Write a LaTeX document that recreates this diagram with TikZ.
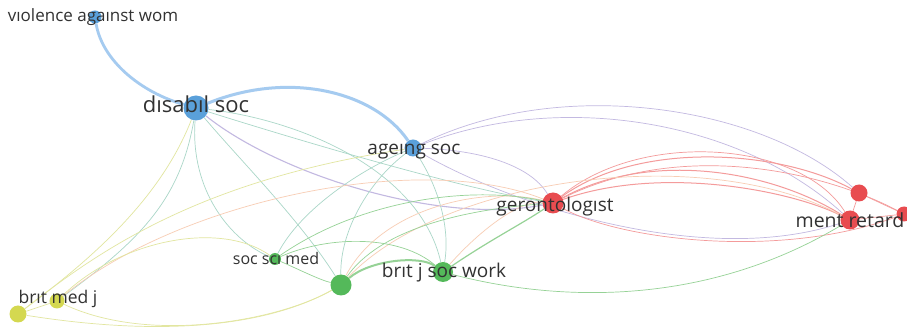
\documentclass[tikz,border=0pt]{standalone}
\usepackage{fontspec}
\setmainfont{Open Sans}
\begin{document}
\definecolor{nblue}{RGB}{90,160,218}
\definecolor{nred}{RGB}{232,76,80}
\definecolor{ngreen}{RGB}{84,185,90}
\definecolor{nyellow}{RGB}{212,216,80}
\definecolor{ebl}{RGB}{165,203,240}
\definecolor{etl}{RGB}{170,215,200}
\definecolor{epu}{RGB}{195,185,225}
\definecolor{ere}{RGB}{244,155,155}
\definecolor{egr}{RGB}{150,210,150}
\definecolor{eye}{RGB}{226,230,160}
\definecolor{eor}{RGB}{248,205,180}
\definecolor{txt}{RGB}{50,50,50}
\begin{tikzpicture}[x=1pt,y=-1pt,
  nd/.style={circle,inner sep=0pt,draw=none},
  lab/.style={text=txt,inner sep=0pt},
  ed/.style={line width=0.7pt}]
\useasboundingbox (0,0) rectangle (907,336);
\fill[white] (0,0) rectangle (907,336);
% node positions
\coordinate (violC) at (95,17);
\coordinate (disC) at (196,108);
\coordinate (ageC) at (413,148);
\coordinate (gerC) at (553,203);
\coordinate (mraC) at (859,193);
\coordinate (mrbC) at (850,220);
\coordinate (mrcC) at (904,214);
\coordinate (sscC) at (275,259);
\coordinate (gnC) at (341,285);
\coordinate (bjsC) at (443,272);
\coordinate (bmjC) at (57,301);
\coordinate (yelC) at (18,314);
% nodes
\node[nd,minimum size=13pt] (viol) at (violC) {};
\node[nd,minimum size=25pt] (dis) at (disC) {};
\node[nd,minimum size=17pt] (age) at (ageC) {};
\node[nd,minimum size=21pt] (ger) at (gerC) {};
\node[nd,minimum size=17pt] (mra) at (mraC) {};
\node[nd,minimum size=19pt] (mrb) at (mrbC) {};
\node[nd,minimum size=15pt] (mrc) at (mrcC) {};
\node[nd,minimum size=12pt] (ssc) at (sscC) {};
\node[nd,minimum size=21pt] (gn) at (gnC) {};
\node[nd,minimum size=20pt] (bjs) at (bjsC) {};
\node[nd,minimum size=15pt] (bmj) at (bmjC) {};
\node[nd,minimum size=17pt] (yel) at (yelC) {};
\begin{scope}[ed]
% blue
\draw[ebl,line width=2.8pt] (viol) .. controls (102,60) and (140,92) .. (dis);
\draw[ebl,line width=3pt] (dis) .. controls (290,70) and (375,92) .. (age);
\draw[epu,line width=1.1pt] (dis) .. controls (280,175) and (440,225) .. (ger);
\draw[epu] (age) .. controls (480,150) and (530,165) .. (ger);
\draw[epu] (age) .. controls (560,75) and (760,105) .. (mra);
\draw[epu] (age) .. controls (560,90) and (740,120) .. (mrb);
\draw[epu] (age) .. controls (500,200) and (700,270) .. (mrb);
% teal
\draw[etl] (dis) .. controls (300,120) and (420,170) .. (bjs);
\draw[etl] (dis) .. controls (240,160) and (300,220) .. (gn);
\draw[etl] (dis) .. controls (190,190) and (230,240) .. (ssc);
\draw[etl] (dis) .. controls (180,200) and (140,240) .. (bmj);
\draw[etl] (age) .. controls (360,170) and (300,210) .. (ssc);
\draw[etl] (age) .. controls (370,180) and (340,230) .. (gn);
\draw[etl] (age) .. controls (440,190) and (450,230) .. (bjs);
\draw[etl] (dis) .. controls (330,150) and (470,190) .. (ger);
% red
\draw[ere,line width=1pt] (ger) .. controls (640,140) and (780,150) .. (mra);
\draw[ere,line width=1pt] (ger) .. controls (650,150) and (770,170) .. (mrb);
\draw[ere,line width=1pt] (ger) .. controls (660,165) and (790,190) .. (mrb);
\draw[ere] (ger) .. controls (640,130) and (800,140) .. (mrb);
\draw[ere] (ger) .. controls (680,140) and (820,170) .. (mrc);
\draw[ere] (ger) .. controls (620,240) and (780,260) .. (mrc);
\draw[ere] (mra) -- (mrb);
\draw[ere] (mrb) -- (mrc);
\draw[ere] (mra) -- (mrc);
% peach / orange
\draw[eor] (bmj) .. controls (180,200) and (420,150) .. (ger);
\draw[eor] (gn) .. controls (380,210) and (480,185) .. (ger);
\draw[eor] (bjs) .. controls (480,230) and (520,200) .. (ger);
\draw[eor] (gn) .. controls (440,180) and (700,140) .. (mrb);
% green
\draw[egr,line width=2pt] (gn) .. controls (370,260) and (420,255) .. (bjs);
\draw[egr,line width=1.2pt] (bjs) .. controls (490,240) and (520,225) .. (ger);
\draw[egr] (ssc) .. controls (300,270) and (320,280) .. (gn);
\draw[egr] (ssc) .. controls (330,235) and (400,235) .. (bjs);
\draw[egr] (ssc) .. controls (360,200) and (470,185) .. (ger);
\draw[egr] (gn) .. controls (380,230) and (460,210) .. (ger);
\draw[egr] (bjs) .. controls (550,300) and (700,310) .. (mrb);
% yellow
\draw[eye] (bmj) .. controls (120,240) and (220,220) .. (ssc);
\draw[eye] (bmj) .. controls (150,345) and (280,320) .. (gn);
\draw[eye] (yel) -- (bmj);
\draw[eye] (yel) .. controls (100,250) and (200,180) .. (age);
\draw[eye] (yel) .. controls (90,260) and (160,200) .. (dis);
\draw[eye] (yel) .. controls (150,335) and (260,330) .. (gn);
\end{scope}
% node discs on top of edges
\fill[nblue] (violC) circle (6.5pt);
\fill[nblue] (disC) circle (12.5pt);
\fill[nblue] (ageC) circle (8.5pt);
\fill[nred] (gerC) circle (10.5pt);
\fill[nred] (mraC) circle (8.5pt);
\fill[nred] (mrbC) circle (9.5pt);
\fill[nred] (mrcC) circle (7.5pt);
\fill[ngreen] (sscC) circle (6pt);
\fill[ngreen] (gnC) circle (10.5pt);
\fill[ngreen] (bjsC) circle (10pt);
\fill[nyellow] (bmjC) circle (7.5pt);
\fill[nyellow] (yelC) circle (8.5pt);
% labels
\node[lab,font=\fontsize{17}{19}\selectfont] (violL) at (93,17) {vıolence agaınst wom};
\node[lab,font=\fontsize{22}{24}\selectfont] (disL) at (196,104) {dısabıl soc};
\node[lab,font=\fontsize{19}{21}\selectfont] (ageL) at (414,152) {ageıng soc};
\node[lab,font=\fontsize{19}{21}\selectfont] (gerL) at (555,207) {gerontologıst};
\node[lab,font=\fontsize{19.5}{21}\selectfont] (mrL) at (850,220) {ment retard};
\node[lab,font=\fontsize{16}{18}\selectfont] (sscL) at (276,259) {soc scı med};
\node[lab,font=\fontsize{19}{21}\selectfont] (bjsL) at (444,273) {brıt j soc work};
\node[lab,font=\fontsize{17.5}{19}\selectfont] (bmjL) at (58,299) {brıt med j};
\end{tikzpicture}
\end{document}
